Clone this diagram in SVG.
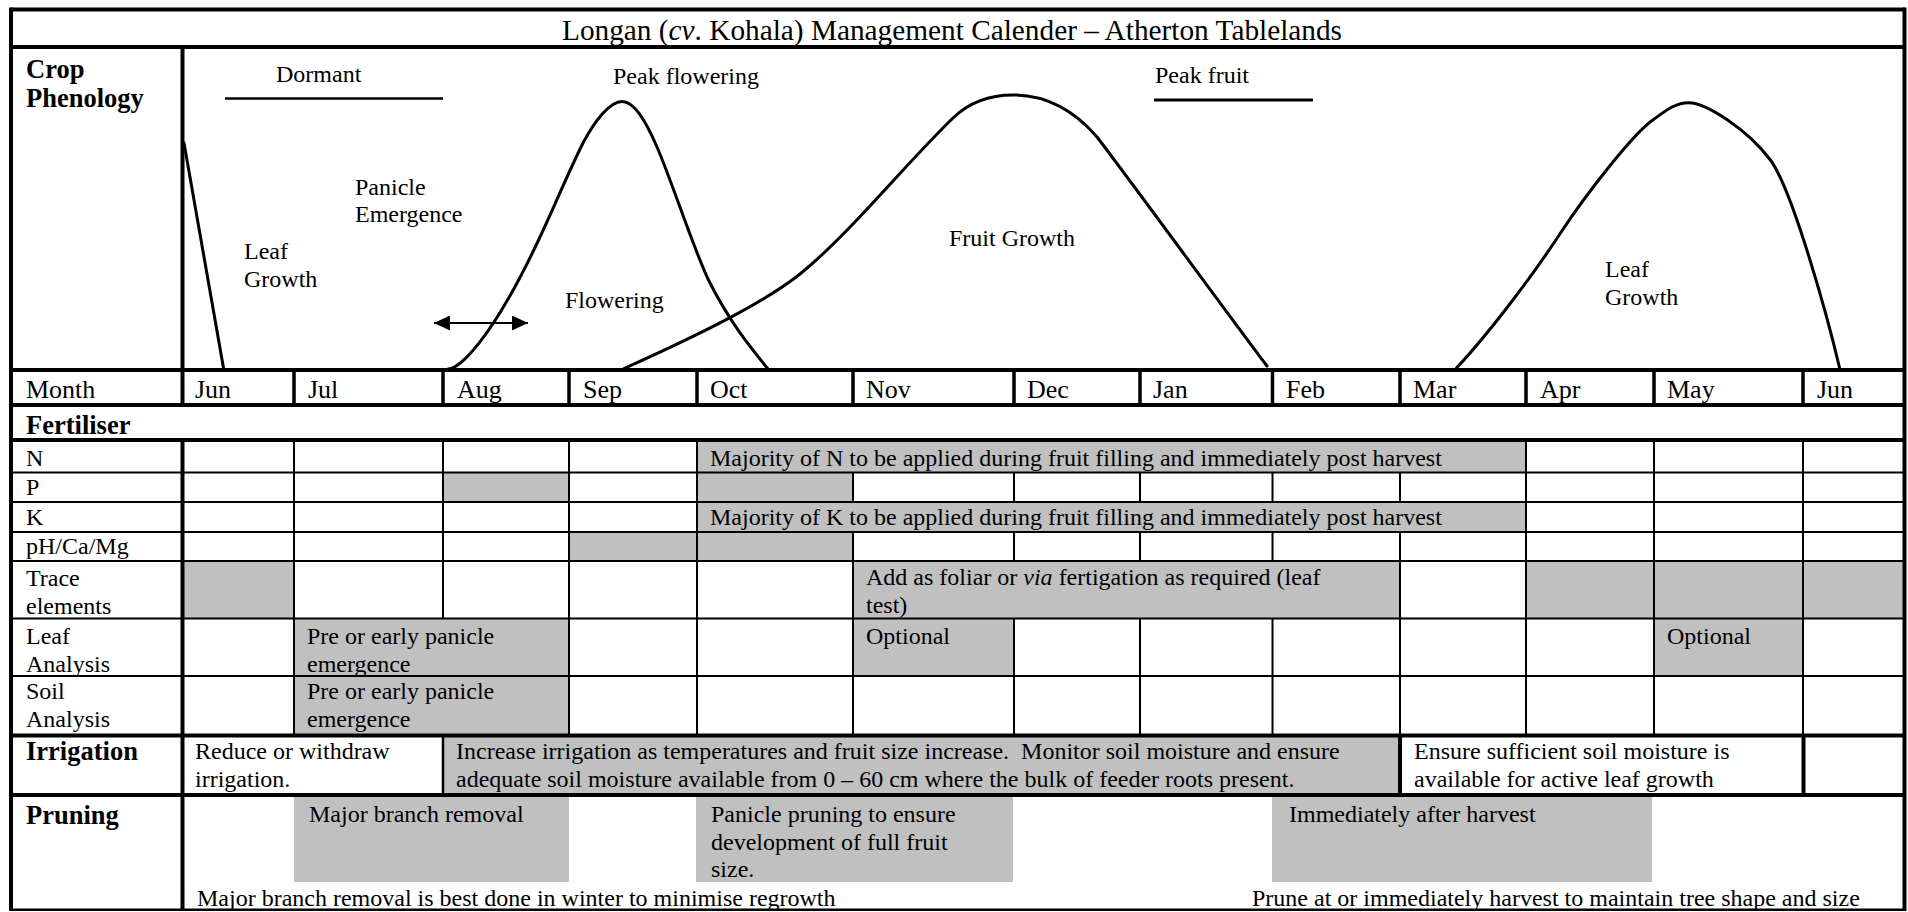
<svg xmlns="http://www.w3.org/2000/svg" width="1908" height="912" viewBox="0 0 1908 912">
<style>
text{font-family:"Liberation Serif","Times New Roman",serif;font-size:24px;fill:#000}
.m{font-size:26px}
.b{font-weight:bold;font-size:26.5px}
.ti{font-size:29.3px}
.g{fill:#c0c0c0}
.k{stroke:#000;stroke-width:4;fill:none}
.mk{stroke:#000;stroke-width:3.5;fill:none}
.n{stroke:#000;stroke-width:2;fill:none}
.c{fill:none;stroke:#000;stroke-width:3;stroke-linecap:round;stroke-linejoin:round}
</style>
<defs>
<marker id="ah" viewBox="0 0 16 15" refX="16" refY="7.5" markerWidth="16" markerHeight="15" markerUnits="userSpaceOnUse" orient="auto-start-reverse"><path d="M0,0 L16,7.5 L0,15 z" fill="#000"/></marker>
</defs>
<rect width="1908" height="912" fill="#fff"/>

<g id="shading">
<rect class="g" x="697" y="440" width="829" height="32.5"/>
<rect class="g" x="443" y="472.5" width="126" height="29.5"/>
<rect class="g" x="697" y="472.5" width="156" height="29.5"/>
<rect class="g" x="697" y="502" width="829" height="30"/>
<rect class="g" x="569" y="532" width="284" height="29"/>
<rect class="g" x="182.5" y="561" width="111.5" height="57.5"/>
<rect class="g" x="853" y="561" width="547" height="57.5"/>
<rect class="g" x="1526" y="561" width="378.5" height="57.5"/>
<rect class="g" x="294" y="618.5" width="275" height="57.5"/>
<rect class="g" x="853" y="618.5" width="161" height="57.5"/>
<rect class="g" x="1654" y="618.5" width="149" height="57.5"/>
<rect class="g" x="294" y="676" width="275" height="59.5"/>
<rect class="g" x="443" y="735.5" width="957" height="59.5"/>
<rect class="g" x="294" y="797" width="275" height="85"/>
<rect class="g" x="696" y="797" width="317" height="85"/>
<rect class="g" x="1272" y="797" width="380" height="85"/>
</g>

<g id="grid">
<line class="k" x1="11" y1="9.5" x2="1904.5" y2="9.5"/>
<line class="k" x1="11" y1="7.5" x2="11" y2="911"/>
<line class="k" x1="1904.5" y1="7.5" x2="1904.5" y2="911"/>
<line x1="11" y1="909.7" x2="1904.5" y2="909.7" stroke="#000" stroke-width="2.5"/>
<line class="k" x1="11" y1="47" x2="1904.5" y2="47"/>
<line class="k" x1="11" y1="370" x2="1904.5" y2="370"/>
<line class="k" x1="11" y1="405" x2="1904.5" y2="405"/>
<line class="k" x1="11" y1="440" x2="1904.5" y2="440"/>
<line class="n" x1="11" y1="472.5" x2="1904.5" y2="472.5"/>
<line class="n" x1="11" y1="502" x2="1904.5" y2="502"/>
<line class="n" x1="11" y1="532" x2="1904.5" y2="532"/>
<line class="n" x1="11" y1="561" x2="1904.5" y2="561"/>
<line class="n" x1="11" y1="618.5" x2="1904.5" y2="618.5"/>
<line class="n" x1="11" y1="676" x2="1904.5" y2="676"/>
<line class="k" x1="11" y1="735.5" x2="1904.5" y2="735.5"/>
<line class="k" x1="11" y1="795" x2="1904.5" y2="795"/>
<line class="k" x1="182.5" y1="47" x2="182.5" y2="405"/>
<line class="k" x1="182.5" y1="440" x2="182.5" y2="909.5"/>
<path class="mk" d="M294,370V405M443,370V405M569,370V405M697,370V405M853,370V405M1014,370V405M1140,370V405M1272.5,370V405M1400,370V405M1526,370V405M1654,370V405M1803,370V405"/>
<path class="n" d="M294,440V472.5M443,440V472.5M569,440V472.5M697,440V472.5M1526,440V472.5M1654,440V472.5M1803,440V472.5"/>
<path class="n" d="M294,472.5V502M443,472.5V502M569,472.5V502M697,472.5V502M853,472.5V502M1014,472.5V502M1140,472.5V502M1272.5,472.5V502M1400,472.5V502M1526,472.5V502M1654,472.5V502M1803,472.5V502"/>
<path class="n" d="M294,502V532M443,502V532M569,502V532M697,502V532M1526,502V532M1654,502V532M1803,502V532"/>
<path class="n" d="M294,532V561M443,532V561M569,532V561M697,532V561M853,532V561M1014,532V561M1140,532V561M1272.5,532V561M1400,532V561M1526,532V561M1654,532V561M1803,532V561"/>
<path class="n" d="M294,561V618.5M443,561V618.5M569,561V618.5M697,561V618.5M853,561V618.5M1400,561V618.5M1526,561V618.5M1654,561V618.5M1803,561V618.5"/>
<path class="n" d="M294,618.5V735.5M569,618.5V735.5M697,618.5V735.5M853,618.5V735.5M1014,618.5V735.5M1140,618.5V735.5M1272.5,618.5V735.5M1400,618.5V735.5M1526,618.5V735.5M1654,618.5V735.5M1803,618.5V735.5"/>
<line x1="443" y1="735.5" x2="443" y2="795" stroke="#000" stroke-width="2.5"/>
<line class="k" x1="1400" y1="735.5" x2="1400" y2="795"/>
<line class="k" x1="1803.5" y1="735.5" x2="1803.5" y2="795"/>
</g>

<g id="title"><text class="ti" x="952" y="40" text-anchor="middle">Longan (<tspan font-style="italic">cv</tspan>. Kohala) Management Calender – Atherton Tablelands</text></g>

<g id="phenology">
<text class="b" x="26" y="78">Crop</text>
<text class="b" x="26" y="107">Phenology</text>
<text x="276" y="82">Dormant</text>
<line x1="225" y1="98.5" x2="443" y2="98.5" stroke="#000" stroke-width="2.5"/>
<text x="613" y="84">Peak flowering</text>
<text x="1155" y="83">Peak fruit</text>
<line x1="1154" y1="100" x2="1313" y2="100" stroke="#000" stroke-width="3"/>
<text x="355" y="194.5">Panicle</text>
<text x="355" y="222">Emergence</text>
<text x="244" y="259">Leaf</text>
<text x="244" y="287">Growth</text>
<text x="565" y="308">Flowering</text>
<text x="949" y="245.5">Fruit Growth</text>
<text x="1605" y="277">Leaf</text>
<text x="1605" y="305">Growth</text>
<path id="leaf1" class="c" d="M184,143 L223.5,368"/>
<path id="flowering" class="c" d="M448,369 C458,369 490,344 540,237 C554,207 569,171 583,143 C595,120.5 610,101.5 622,101.5 C634,101.5 645,119.5 657,147 C672,181.4 695,253.7 710,283 C730,322 748,344.4 768,369"/>
<path id="fruit" class="c" d="M623,369 C683,342 760,306 800,274 C850,233.5 903,166.5 953,118 C968,103.5 988,95 1013,95 C1043,95 1072,108 1097,137 C1127,176 1227,313 1267,366"/>
<path id="leaf2" class="c" d="M1456.5,368 C1486.5,336 1530.5,279 1560.5,233 C1585.5,195 1632.8,134 1652.8,120 C1664.8,111.6 1674.5,102.7 1688.5,102.7 C1706.5,102.7 1748.4,130.3 1770.4,160 C1792.4,189.7 1827.6,317 1839.6,368"/>
</g>

<g id="connectors">
<line x1="434" y1="323" x2="528" y2="323" stroke="#000" stroke-width="2" marker-start="url(#ah)" marker-end="url(#ah)"/>
</g>

<g id="months">
<text class="m" x="26" y="398">Month</text>
<text class="m" x="195" y="398">Jun</text>
<text class="m" x="308" y="398">Jul</text>
<text class="m" x="457" y="398">Aug</text>
<text class="m" x="583" y="398">Sep</text>
<text class="m" x="710" y="398">Oct</text>
<text class="m" x="866" y="398">Nov</text>
<text class="m" x="1027" y="398">Dec</text>
<text class="m" x="1153" y="398">Jan</text>
<text class="m" x="1286" y="398">Feb</text>
<text class="m" x="1413" y="398">Mar</text>
<text class="m" x="1540" y="398">Apr</text>
<text class="m" x="1667" y="398">May</text>
<text class="m" x="1817" y="398">Jun</text>
</g>

<g id="fertiliser">
<text class="b" x="26" y="434">Fertiliser</text>
<text x="26" y="466">N</text>
<text x="710" y="466">Majority of N to be applied during fruit filling and immediately post harvest</text>
<text x="26" y="495">P</text>
<text x="26" y="525">K</text>
<text x="710" y="525">Majority of K to be applied during fruit filling and immediately post harvest</text>
<text x="26" y="553.5">pH/Ca/Mg</text>
<text x="26" y="586">Trace</text>
<text x="26" y="613.5">elements</text>
<text x="866" y="585">Add as foliar or <tspan font-style="italic">via</tspan> fertigation as required (leaf</text>
<text x="866" y="613">test)</text>
<text x="26" y="644">Leaf</text>
<text x="26" y="671.5">Analysis</text>
<text x="307" y="644">Pre or early panicle</text>
<text x="307" y="671.5">emergence</text>
<text x="866" y="644">Optional</text>
<text x="1667" y="644">Optional</text>
<text x="26" y="699">Soil</text>
<text x="26" y="727">Analysis</text>
<text x="307" y="699">Pre or early panicle</text>
<text x="307" y="727">emergence</text>
</g>

<g id="irrigation">
<text class="b" x="26" y="760">Irrigation</text>
<text x="195" y="759">Reduce or withdraw</text>
<text x="195" y="786.5">irrigation.</text>
<text x="456" y="759" style="white-space:pre">Increase irrigation as temperatures and fruit size increase.  Monitor soil moisture and ensure</text>
<text x="456" y="786.5">adequate soil moisture available from 0 – 60 cm where the bulk of feeder roots present.</text>
<text x="1414" y="759">Ensure sufficient soil moisture is</text>
<text x="1414" y="786.5">available for active leaf growth</text>
</g>

<g id="pruning">
<text class="b" x="26" y="824">Pruning</text>
<text x="309" y="822">Major branch removal</text>
<text x="711" y="822">Panicle pruning to ensure</text>
<text x="711" y="849.5">development of full fruit</text>
<text x="711" y="877">size.</text>
<text x="1289" y="822">Immediately after harvest</text>
<text x="197" y="906">Major branch removal is best done in winter to minimise regrowth</text>
<text x="1252" y="906">Prune at or immediately harvest to maintain tree shape and size</text>
</g>
</svg>
